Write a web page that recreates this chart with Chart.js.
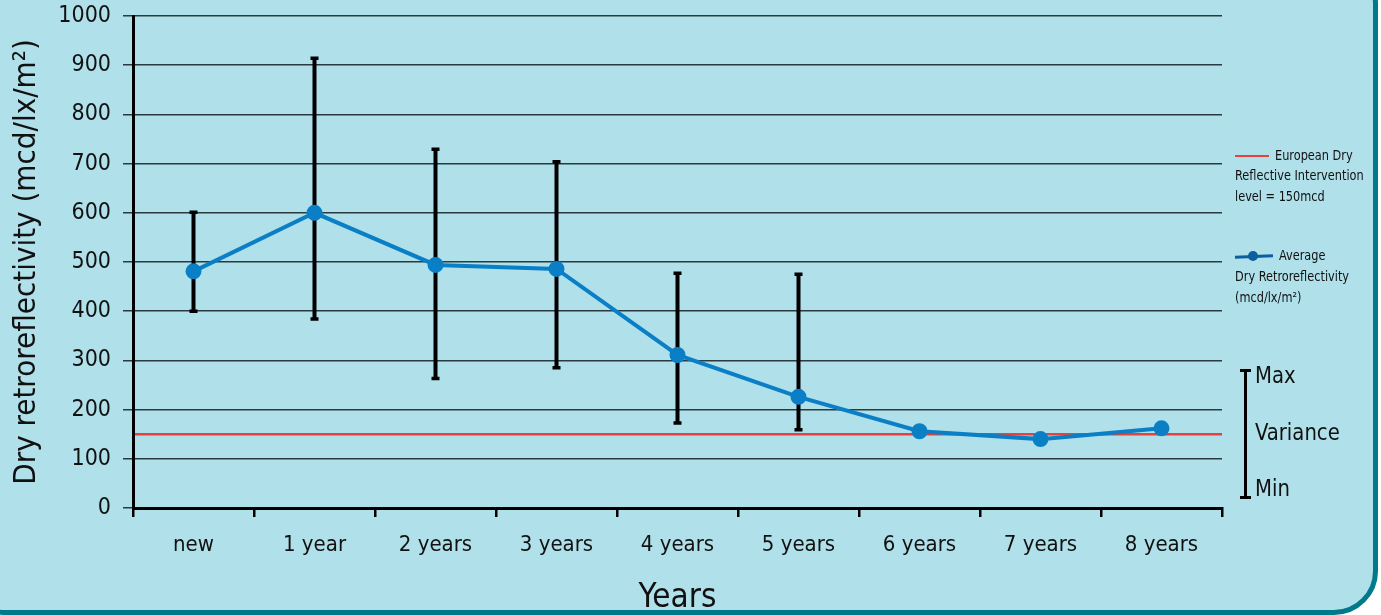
<!DOCTYPE html>
<html>
<head>
<meta charset="utf-8">
<script src="https://cdn.jsdelivr.net/npm/chart.js@4.4.0/dist/chart.umd.min.js"></script>
<style>
  html, body { margin: 0; padding: 0; background: #ffffff; overflow: hidden; }
  #frame {
    position: absolute; left: -40px; top: -40px; width: 1418px; height: 655px;
    box-sizing: border-box; background: #b0e0ea; border: 5px solid #00798a; border-radius: 44px;
  }
  #wrap { position: absolute; left: 0; top: 0; width: 1381px; height: 615px; }
  .lg { position: absolute; font-family: 'Liberation Sans Narrow', 'Arial Narrow', 'DejaVu Sans Condensed', sans-serif;
        color: #111; white-space: nowrap; transform-origin: 0 0; }
  .small { font-size: 14px; line-height: 20.5px; transform: scaleX(0.9); }
  .big { font-size: 23px; line-height: 24px; transform: scaleX(0.95); }
</style>
</head>
<body>
<div id="frame"></div>
<div id="wrap"><canvas id="chart"></canvas></div>

<!-- legend -->
<div style="position:absolute; left:1235px; top:155px; width:34px; height:2px; background:#e8413c;"></div>
<div class="lg small" style="left:1275px; top:145px;">European Dry</div>
<div class="lg small" style="left:1235px; top:165px;">Reflective Intervention<br>level = 150mcd</div>

<div style="position:absolute; left:1235px; top:255px; width:38px; height:3px; background:#0b5fa0; transform:rotate(-2deg);"></div>
<div style="position:absolute; left:1248px; top:251px; width:10px; height:10px; border-radius:50%; background:#0b5fa0;"></div>
<div class="lg small" style="left:1279px; top:245px;">Average</div>
<div class="lg small" style="left:1235px; top:266px;">Dry Retroreflectivity<br>(mcd/lx/m²)</div>

<!-- variance key -->
<div style="position:absolute; left:1244px; top:370px; width:3px; height:128px; background:#000;"></div>
<div style="position:absolute; left:1240px; top:369px; width:11px; height:3px; background:#000;"></div>
<div style="position:absolute; left:1240px; top:496px; width:11px; height:3px; background:#000;"></div>
<div class="lg big" style="left:1255px; top:363px;">Max</div>
<div class="lg big" style="left:1255px; top:420px;">Variance</div>
<div class="lg big" style="left:1255px; top:476px;">Min</div>

<script>
const FONT = "'Liberation Sans Narrow', 'Arial Narrow', 'DejaVu Sans Condensed', sans-serif";

const categories = ['new', '1 year', '2 years', '3 years', '4 years', '5 years', '6 years', '7 years', '8 years'];
const averageValues = [481, 600, 494, 486, 311, 226, 156, 140, 162];
const minValues = [400, 384, 263, 285, 173, 159, 153, 137, 153];
const maxValues = [601, 914, 729, 704, 477, 475, 159, 148, 168];
const interventionLevel = 150;
const yTicks = [0, 100, 200, 300, 400, 500, 600, 700, 800, 900, 1000];

// red intervention line + min/max bars, drawn under the average line
const errorBars = {
  id: 'errorBars',
  beforeDatasetsDraw(chart) {
    const { ctx, chartArea, scales: { x, y } } = chart;
    ctx.save();
    const yl = y.getPixelForValue(interventionLevel);
    ctx.strokeStyle = '#e8413c';
    ctx.lineWidth = 2.5;
    ctx.beginPath();
    ctx.moveTo(chartArea.left + 2, yl);
    ctx.lineTo(chartArea.right, yl);
    ctx.stroke();

    ctx.strokeStyle = '#000';
    categories.forEach((c, i) => {
      const px = x.getPixelForValue(i);
      const top = y.getPixelForValue(maxValues[i]);
      const bot = y.getPixelForValue(minValues[i]);
      ctx.lineWidth = 4;
      ctx.beginPath();
      ctx.moveTo(px, top);
      ctx.lineTo(px, bot);
      ctx.stroke();
      ctx.lineWidth = 3.5;
      ctx.beginPath();
      ctx.moveTo(px - 4, top); ctx.lineTo(px + 4, top);
      ctx.moveTo(px - 4, bot); ctx.lineTo(px + 4, bot);
      ctx.stroke();
    });
    ctx.restore();
  }
};

new Chart(document.getElementById('chart'), {
  type: 'line',
  data: {
    labels: categories,
    datasets: [{
      label: 'Average Dry Retroreflectivity',
      data: averageValues,
      borderColor: '#0a7fc6',
      backgroundColor: '#0a7fc6',
      borderWidth: 4,
      pointRadius: 6,
      pointHoverRadius: 6,
      tension: 0
    }]
  },
  options: {
    responsive: true,
    maintainAspectRatio: false,
    animation: false,
    layout: { padding: { left: 0, right: 159, top: 16, bottom: 0 } },
    plugins: {
      legend: { display: false },
      tooltip: { enabled: false }
    },
    scales: {
      y: {
        min: 0,
        max: 1000,
        afterBuildTicks: s => { s.ticks = yTicks.map(v => ({ value: v })); },
        afterFit: s => { s.width = 133; s.paddingTop = 0; s.paddingBottom = 0; },
        border: { display: true, color: '#000', width: 3 },
        grid: { color: '#2b3a40', lineWidth: 1.5, tickLength: 10, drawTicks: true },
        ticks: { color: '#111', padding: 12, font: { family: FONT, size: 23 }, callback: v => String(v) },
        title: {
          display: true,
          text: 'Dry retroreflectivity (mcd/lx/m²)',
          color: '#111',
          font: { family: FONT, size: 31 },
          padding: { top: 8, bottom: 0 }
        }
      },
      x: {
        offset: true,
        afterFit: s => { s.height = 107; s.paddingLeft = 0; s.paddingRight = 0; },
        border: { display: true, color: '#000', width: 3 },
        grid: { offset: true, drawOnChartArea: false, color: '#000', lineWidth: 2.5, tickLength: 9 },
        ticks: { color: '#111', padding: 15, font: { family: FONT, size: 22 } },
        title: {
          display: true,
          text: 'Years',
          color: '#111',
          font: { family: FONT, size: 33 },
          padding: { top: 0, bottom: -3 }
        }
      }
    }
  },
  plugins: [errorBars]
});
</script>
</body>
</html>
